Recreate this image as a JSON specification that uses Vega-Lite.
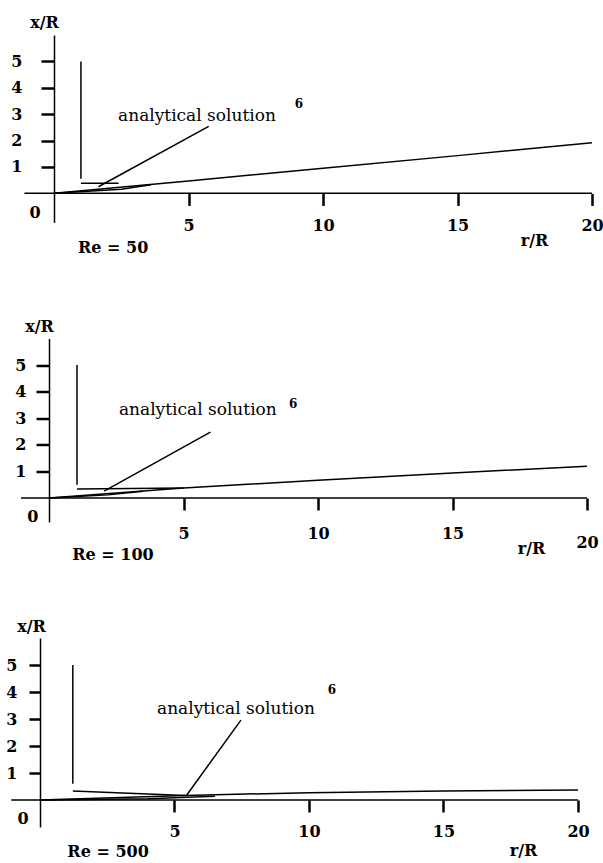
{
  "$schema": "https://vega.github.io/schema/vega-lite/v6.json",
  "padding": {"top": 14, "left": 5, "right": 0, "bottom": 0},
  "background": "white",
  "bounds": "flush",
  "spacing": 115.5,
  "datasets": {
    "rows": [
      {"panel": "p1", "kind": "line", "seg": "wall", "ord": 0, "r": 1.0, "y": 0.55},
      {"panel": "p1", "kind": "line", "seg": "wall", "ord": 1, "r": 1.0, "y": 5.0},
      {"panel": "p1", "kind": "line", "seg": "film", "ord": 0, "r": 1.0, "y": 0.38},
      {"panel": "p1", "kind": "line", "seg": "film", "ord": 1, "r": 2.4, "y": 0.38},
      {"panel": "p1", "kind": "line", "seg": "main", "ord": 0, "r": 0, "y": 0},
      {"panel": "p1", "kind": "line", "seg": "main", "ord": 1, "r": 5, "y": 0.47},
      {"panel": "p1", "kind": "line", "seg": "main", "ord": 2, "r": 10, "y": 0.95},
      {"panel": "p1", "kind": "line", "seg": "main", "ord": 3, "r": 15, "y": 1.43},
      {"panel": "p1", "kind": "line", "seg": "main", "ord": 4, "r": 20, "y": 1.92},
      {"panel": "p1", "kind": "line", "seg": "analytical", "ord": 0, "r": 0, "y": 0},
      {"panel": "p1", "kind": "line", "seg": "analytical", "ord": 1, "r": 2.5, "y": 0.16},
      {"panel": "p1", "kind": "line", "seg": "analytical", "ord": 2, "r": 3.6, "y": 0.33},
      {"panel": "p1", "kind": "line", "seg": "leader", "ord": 0, "r": 1.65, "y": 0.25},
      {"panel": "p1", "kind": "line", "seg": "leader", "ord": 1, "r": 5.75, "y": 2.54},
      {"panel": "p1", "kind": "axis", "r": -1.1, "r2": 20, "y": 0},
      {"panel": "p1", "kind": "anno", "label": "analytical solution", "r": 2.38, "y": 2.74},
      {"panel": "p1", "kind": "sup", "label": "6", "r": 8.95, "y": 3.22},
      {"panel": "p1", "kind": "re", "label": "Re = 50", "r": 2.2, "y": -2.08},
      {"panel": "p1", "kind": "zero", "label": "0", "r": -0.71, "y": -0.76},

      {"panel": "p2", "kind": "line", "seg": "wall", "ord": 0, "r": 1.04, "y": 0.5},
      {"panel": "p2", "kind": "line", "seg": "wall", "ord": 1, "r": 1.04, "y": 5.0},
      {"panel": "p2", "kind": "line", "seg": "film", "ord": 0, "r": 1.04, "y": 0.34},
      {"panel": "p2", "kind": "line", "seg": "film", "ord": 1, "r": 5, "y": 0.38},
      {"panel": "p2", "kind": "line", "seg": "main", "ord": 0, "r": 0, "y": 0},
      {"panel": "p2", "kind": "line", "seg": "main", "ord": 1, "r": 2, "y": 0.15},
      {"panel": "p2", "kind": "line", "seg": "main", "ord": 2, "r": 5, "y": 0.38},
      {"panel": "p2", "kind": "line", "seg": "main", "ord": 3, "r": 10, "y": 0.67},
      {"panel": "p2", "kind": "line", "seg": "main", "ord": 4, "r": 15, "y": 0.94},
      {"panel": "p2", "kind": "line", "seg": "main", "ord": 5, "r": 20, "y": 1.2},
      {"panel": "p2", "kind": "line", "seg": "analytical", "ord": 0, "r": 0, "y": 0},
      {"panel": "p2", "kind": "line", "seg": "analytical", "ord": 1, "r": 2.2, "y": 0.12},
      {"panel": "p2", "kind": "line", "seg": "analytical", "ord": 2, "r": 3.5, "y": 0.26},
      {"panel": "p2", "kind": "line", "seg": "leader", "ord": 0, "r": 2.05, "y": 0.26},
      {"panel": "p2", "kind": "line", "seg": "leader", "ord": 1, "r": 6.0, "y": 2.48},
      {"panel": "p2", "kind": "axis", "r": -1.04, "r2": 20, "y": 0},
      {"panel": "p2", "kind": "anno", "label": "analytical solution", "r": 2.6, "y": 3.12},
      {"panel": "p2", "kind": "sup", "label": "6", "r": 8.92, "y": 3.38},
      {"panel": "p2", "kind": "re", "label": "Re = 100", "r": 2.38, "y": -2.14},
      {"panel": "p2", "kind": "zero", "label": "0", "r": -0.6, "y": -0.71},

      {"panel": "p3", "kind": "line", "seg": "wall", "ord": 0, "r": 1.22, "y": 0.6},
      {"panel": "p3", "kind": "line", "seg": "wall", "ord": 1, "r": 1.22, "y": 5.0},
      {"panel": "p3", "kind": "line", "seg": "film", "ord": 0, "r": 1.22, "y": 0.33},
      {"panel": "p3", "kind": "line", "seg": "film", "ord": 1, "r": 5.4, "y": 0.17},
      {"panel": "p3", "kind": "line", "seg": "main", "ord": 0, "r": 0, "y": 0},
      {"panel": "p3", "kind": "line", "seg": "main", "ord": 1, "r": 5.4, "y": 0.17},
      {"panel": "p3", "kind": "line", "seg": "main", "ord": 2, "r": 10, "y": 0.27},
      {"panel": "p3", "kind": "line", "seg": "main", "ord": 3, "r": 15, "y": 0.33},
      {"panel": "p3", "kind": "line", "seg": "main", "ord": 4, "r": 20, "y": 0.37},
      {"panel": "p3", "kind": "line", "seg": "analytical", "ord": 0, "r": 0, "y": 0},
      {"panel": "p3", "kind": "line", "seg": "analytical", "ord": 1, "r": 4, "y": 0.05},
      {"panel": "p3", "kind": "line", "seg": "analytical", "ord": 2, "r": 6.5, "y": 0.14},
      {"panel": "p3", "kind": "line", "seg": "leader", "ord": 0, "r": 5.43, "y": 0.15},
      {"panel": "p3", "kind": "line", "seg": "leader", "ord": 1, "r": 7.47, "y": 2.96},
      {"panel": "p3", "kind": "axis", "r": -1.07, "r2": 20, "y": 0},
      {"panel": "p3", "kind": "anno", "label": "analytical solution", "r": 4.35, "y": 3.19},
      {"panel": "p3", "kind": "sup", "label": "6", "r": 10.7, "y": 3.93},
      {"panel": "p3", "kind": "re", "label": "Re = 500", "r": 2.53, "y": -1.93},
      {"panel": "p3", "kind": "zero", "label": "0", "r": -0.63, "y": -0.7}
    ]
  },
  "vconcat": [
    {
      "width": 581, "height": 187.4,
      "data": {"name": "rows"},
      "transform": [{"filter": "datum.panel == 'p1'"}],
      "encoding": {
        "x": {"field": "r", "type": "quantitative", "scale": {"domain": [-1.6, 20], "nice": false, "zero": false},
              "axis": {"values": [5, 10, 15, 20], "offset": -29, "domain": false, "ticks": true, "tickSize": 12, "tickColor": "#000000", "tickWidth": 2.5, "tickOpacity": 1, "labelPadding": 12, "labelFlush": false, "labelAlign": "center",
                       "title": "r/R", "titleX": 523, "titleY": 47, "titleAlign": "center", "titleBaseline": "middle"}},
        "y": {"field": "y", "type": "quantitative", "scale": {"domain": [-1.1, 6], "nice": false, "zero": false},
              "axis": {"values": [1, 2, 3, 4, 5], "offset": -43, "ticks": true, "tickSize": 13, "tickColor": "#000000", "tickWidth": 2.5, "tickOpacity": 1, "labelPadding": 19,
                       "title": "x/R", "titleAngle": 0, "titleX": -10, "titleY": -13, "titleAlign": "center", "titleBaseline": "middle"}}
      },
      "layer": [
        {"transform": [{"filter": "datum.kind == 'axis'"}], "mark": {"type": "rule", "strokeWidth": 1.5, "color": "black"}, "encoding": {"x2": {"field": "r2"}}},
        {"transform": [{"filter": "datum.kind == 'line'"}], "mark": {"type": "line", "strokeWidth": 1.5, "color": "black"}, "encoding": {"detail": {"field": "seg"}, "order": {"field": "ord"}}},
        {"transform": [{"filter": "datum.kind == 'anno'"}], "mark": {"type": "text", "align": "left", "baseline": "alphabetic", "fontSize": 17, "font": "DejaVu Serif", "color": "black"}, "encoding": {"text": {"field": "label"}}},
        {"transform": [{"filter": "datum.kind == 'sup'"}], "mark": {"type": "text", "align": "left", "baseline": "alphabetic", "fontSize": 12, "fontWeight": "bold", "font": "DejaVu Serif", "color": "black"}, "encoding": {"text": {"field": "label"}}},
        {"transform": [{"filter": "datum.kind == 're' || datum.kind == 'zero'"}], "mark": {"type": "text", "align": "center", "baseline": "middle", "fontSize": 16, "fontWeight": "bold", "font": "DejaVu Serif", "color": "black"}, "encoding": {"text": {"field": "label"}}}
      ]
    },
    {
      "width": 576, "height": 183.5,
      "data": {"name": "rows"},
      "transform": [{"filter": "datum.panel == 'p2'"}],
      "encoding": {
        "x": {"field": "r", "type": "quantitative", "scale": {"domain": [-1.413, 20], "nice": false, "zero": false},
              "axis": {"values": [5, 10, 15, 20], "offset": -24, "domain": false, "ticks": true, "tickSize": 12, "tickColor": "#000000", "tickWidth": 2.5, "tickOpacity": 1, "labelFlush": false, "labelAlign": "center",
                       "labelPadding": {"condition": {"test": "datum.value == 20", "value": 24}, "value": 15},
                       "title": "r/R", "titleX": 520, "titleY": 50, "titleAlign": "center", "titleBaseline": "middle"}},
        "y": {"field": "y", "type": "quantitative", "scale": {"domain": [-0.9, 6], "nice": false, "zero": false},
              "axis": {"values": [1, 2, 3, 4, 5], "offset": -38, "ticks": true, "tickSize": 13, "tickColor": "#000000", "tickWidth": 2.5, "tickOpacity": 1, "labelPadding": 10,
                       "title": "x/R", "titleAngle": 0, "titleX": -10, "titleY": -12, "titleAlign": "center", "titleBaseline": "middle"}}
      },
      "layer": [
        {"transform": [{"filter": "datum.kind == 'axis'"}], "mark": {"type": "rule", "strokeWidth": 1.5, "color": "black"}, "encoding": {"x2": {"field": "r2"}}},
        {"transform": [{"filter": "datum.kind == 'line'"}], "mark": {"type": "line", "strokeWidth": 1.5, "color": "black"}, "encoding": {"detail": {"field": "seg"}, "order": {"field": "ord"}}},
        {"transform": [{"filter": "datum.kind == 'anno'"}], "mark": {"type": "text", "align": "left", "baseline": "alphabetic", "fontSize": 17, "font": "DejaVu Serif", "color": "black"}, "encoding": {"text": {"field": "label"}}},
        {"transform": [{"filter": "datum.kind == 'sup'"}], "mark": {"type": "text", "align": "left", "baseline": "alphabetic", "fontSize": 12, "fontWeight": "bold", "font": "DejaVu Serif", "color": "black"}, "encoding": {"text": {"field": "label"}}},
        {"transform": [{"filter": "datum.kind == 're' || datum.kind == 'zero'"}], "mark": {"type": "text", "align": "center", "baseline": "middle", "fontSize": 16, "fontWeight": "bold", "font": "DejaVu Serif", "color": "black"}, "encoding": {"text": {"field": "label"}}}
      ]
    },
    {
      "width": 567, "height": 189,
      "data": {"name": "rows"},
      "transform": [{"filter": "datum.panel == 'p3'"}],
      "encoding": {
        "x": {"field": "r", "type": "quantitative", "scale": {"domain": [-1.078, 20], "nice": false, "zero": false},
              "axis": {"values": [5, 10, 15, 20], "offset": -27, "domain": false, "ticks": true, "tickSize": 12, "tickColor": "#000000", "tickWidth": 2.5, "tickOpacity": 1, "labelPadding": 11, "labelFlush": false, "labelAlign": "center",
                       "title": "r/R", "titleX": 512, "titleY": 50, "titleAlign": "center", "titleBaseline": "middle"}},
        "y": {"field": "y", "type": "quantitative", "scale": {"domain": [-1, 6], "nice": false, "zero": false},
              "axis": {"values": [1, 2, 3, 4, 5], "offset": -29, "ticks": true, "tickSize": 11, "tickColor": "#000000", "tickWidth": 2.5, "tickOpacity": 1, "labelPadding": 12,
                       "title": "x/R", "titleAngle": 0, "titleX": -9, "titleY": -12, "titleAlign": "center", "titleBaseline": "middle"}}
      },
      "layer": [
        {"transform": [{"filter": "datum.kind == 'axis'"}], "mark": {"type": "rule", "strokeWidth": 1.5, "color": "black"}, "encoding": {"x2": {"field": "r2"}}},
        {"transform": [{"filter": "datum.kind == 'line'"}], "mark": {"type": "line", "strokeWidth": 1.5, "color": "black"}, "encoding": {"detail": {"field": "seg"}, "order": {"field": "ord"}}},
        {"transform": [{"filter": "datum.kind == 'anno'"}], "mark": {"type": "text", "align": "left", "baseline": "alphabetic", "fontSize": 17, "font": "DejaVu Serif", "color": "black"}, "encoding": {"text": {"field": "label"}}},
        {"transform": [{"filter": "datum.kind == 'sup'"}], "mark": {"type": "text", "align": "left", "baseline": "alphabetic", "fontSize": 12, "fontWeight": "bold", "font": "DejaVu Serif", "color": "black"}, "encoding": {"text": {"field": "label"}}},
        {"transform": [{"filter": "datum.kind == 're' || datum.kind == 'zero'"}], "mark": {"type": "text", "align": "center", "baseline": "middle", "fontSize": 16, "fontWeight": "bold", "font": "DejaVu Serif", "color": "black"}, "encoding": {"text": {"field": "label"}}}
      ]
    }
  ],
  "config": {
    "view": {"stroke": null},
    "axis": {
      "grid": false,
      "domainColor": "black", "domainWidth": 1.5,
      "labelColor": "black", "labelFont": "DejaVu Serif", "labelFontWeight": "bold", "labelFontSize": 16,
      "titleColor": "black", "titleFont": "DejaVu Serif", "titleFontWeight": "bold", "titleFontSize": 16
    }
  }
}
